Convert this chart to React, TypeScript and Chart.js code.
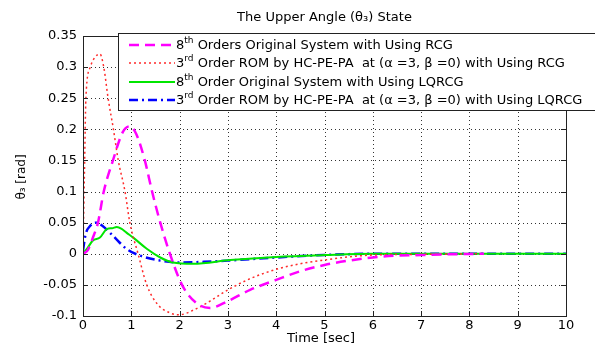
import React, { useEffect, useRef } from "react";
import { Chart, registerables } from "chart.js";

Chart.register(...registerables);

const xTicks = [0, 1, 2, 3, 4, 5, 6, 7, 8, 9, 10];
const yTicks = [-0.1, -0.05, 0, 0.05, 0.1, 0.15, 0.2, 0.25, 0.3, 0.35];

const titleText = "The Upper Angle (θ₃) State";
const xLabel = "Time [sec]";
const yLabel = "θ₃ [rad]";

const magentaT = [0, 0.1, 0.2, 0.31, 0.43, 0.62, 0.82, 0.97, 1.1, 1.28, 1.43, 1.6, 1.8, 2.05, 2.36, 2.63, 3.0, 3.46, 4.0, 4.5, 5.0, 5.5, 6.0, 6.5, 7.0, 7.5, 8.3];
const magentaV = [0, 0.006, 0.025, 0.05, 0.1, 0.15, 0.195, 0.205, 0.193, 0.15, 0.1, 0.05, 0, -0.05, -0.08, -0.087, -0.076, -0.058, -0.042, -0.028, -0.018, -0.011, -0.006, -0.003, -0.002, -0.001, 0];

const redT = [0, 0.03, 0.06, 0.15, 0.25, 0.35, 0.43, 0.52, 0.63, 0.73, 0.87, 0.97, 1.14, 1.32, 1.53, 1.8, 2.0, 2.3, 2.63, 3.0, 3.46, 4.0, 4.5, 5.0, 5.5, 6.0, 7.0, 8.3];
const redV = [0, 0.13, 0.25, 0.3, 0.316, 0.321, 0.3, 0.25, 0.2, 0.15, 0.1, 0.05, 0, -0.05, -0.08, -0.095, -0.098, -0.09, -0.076, -0.058, -0.04, -0.025, -0.016, -0.01, -0.005, -0.002, -0.001, 0];

const greenT = [0, 0.1, 0.2, 0.35, 0.5, 0.6, 0.7, 0.8, 0.9, 1.04, 1.32, 1.6, 1.86, 2.28, 3.05, 4.0, 5.0, 6.0, 7, 8, 9, 10];
const greenV = [0, 0.01, 0.021, 0.026, 0.04, 0.041, 0.043, 0.04, 0.034, 0.026, 0.008, -0.006, -0.014, -0.016, -0.01, -0.005, -0.002, 0, 0, 0, 0, 0];

const blueT = [0, 0.05, 0.15, 0.28, 0.4, 0.62, 0.9, 1.18, 1.6, 2.0, 2.5, 3.0, 4.0, 5.0, 6.0, 7, 8, 9, 10];
const blueV = [0.005, 0.03, 0.045, 0.05, 0.045, 0.029, 0.008, -0.003, -0.011, -0.014, -0.013, -0.011, -0.006, -0.002, 0, 0, 0, 0, 0];

const legendItems = [
  { base: "8", sup: "th", rest: " Orders Original System with Using RCG" },
  { base: "3", sup: "rd", rest: " Order ROM by HC-PE-PA  at (α =3, β =0) with Using RCG" },
  { base: "8", sup: "th", rest: " Order Original System with Using LQRCG" },
  { base: "3", sup: "rd", rest: " Order ROM by HC-PE-PA  at (α =3, β =0) with Using LQRCG" },
];

const FONT = "'DejaVu Sans', 'Liberation Sans', sans-serif";

const pts = (t: number[], v: number[]) => t.map((x, i) => ({ x, y: v[i] }));

const gridPlugin = {
  id: "dotgrid",
  beforeDatasetsDraw(chart: any) {
    const { ctx, chartArea: a } = chart;
    const xs = chart.scales.x;
    const ys = chart.scales.y;
    ctx.save();
    ctx.strokeStyle = "#333";
    ctx.lineWidth = 1;
    ctx.setLineDash([1, 3]);
    ctx.beginPath();
    xTicks.forEach((v) => {
      const px = Math.round(xs.getPixelForValue(v)) + 0.5;
      ctx.moveTo(px, a.top);
      ctx.lineTo(px, a.bottom);
    });
    yTicks.forEach((v) => {
      const py = Math.round(ys.getPixelForValue(v)) + 0.5;
      ctx.moveTo(a.left, py);
      ctx.lineTo(a.right, py);
    });
    ctx.stroke();
    ctx.restore();
  },
};

const decorPlugin = {
  id: "decor",
  afterDraw(chart: any) {
    const { ctx, chartArea: a } = chart;
    const xs = chart.scales.x;
    const ys = chart.scales.y;
    ctx.save();
    ctx.strokeStyle = "#222";
    ctx.lineWidth = 1;
    ctx.setLineDash([]);
    ctx.strokeRect(Math.round(a.left) + 0.5, Math.round(a.top) + 0.5, Math.round(a.right - a.left), Math.round(a.bottom - a.top));
    ctx.beginPath();
    xTicks.forEach((v) => {
      const px = Math.round(xs.getPixelForValue(v)) + 0.5;
      ctx.moveTo(px, a.bottom);
      ctx.lineTo(px, a.bottom - 5);
      ctx.moveTo(px, a.top);
      ctx.lineTo(px, a.top + 5);
    });
    yTicks.forEach((v) => {
      const py = Math.round(ys.getPixelForValue(v)) + 0.5;
      ctx.moveTo(a.left, py);
      ctx.lineTo(a.left + 5, py);
      ctx.moveTo(a.right, py);
      ctx.lineTo(a.right - 5, py);
    });
    ctx.stroke();

    ctx.fillStyle = "#000";
    ctx.font = `13px ${FONT}`;
    ctx.textAlign = "center";
    ctx.textBaseline = "middle";
    ctx.fillText(titleText, (a.left + a.right) / 2, 18);
    ctx.font = `13px ${FONT}`;
    ctx.fillText(xLabel, 321, 339);
    ctx.save();
    ctx.translate(22, 177);
    ctx.rotate(-Math.PI / 2);
    ctx.font = `12px ${FONT}`;
    ctx.fillText(yLabel, 0, 0);
    ctx.restore();

    const bx = 118, by = 33, bw = 490, bh = 77;
    ctx.fillStyle = "#fff";
    ctx.fillRect(bx, by, bw, bh);
    ctx.strokeStyle = "#222";
    ctx.lineWidth = 1;
    ctx.strokeRect(bx + 0.5, by + 0.5, bw, bh);
    const rowsY = [45, 63, 82, 100];
    chart.data.datasets.forEach((ds: any, i: number) => {
      const y = rowsY[i];
      ctx.strokeStyle = ds.borderColor;
      ctx.lineWidth = ds.borderWidth;
      ctx.setLineDash(ds.borderDash || []);
      ctx.beginPath();
      ctx.moveTo(129, y);
      ctx.lineTo(175, y);
      ctx.stroke();
      ctx.setLineDash([]);
      const it = legendItems[i];
      ctx.fillStyle = "#000";
      ctx.textAlign = "left";
      ctx.textBaseline = "middle";
      let x = 176;
      ctx.font = `13px ${FONT}`;
      ctx.fillText(it.base, x, y + 1);
      x += ctx.measureText(it.base).width;
      ctx.font = `9px ${FONT}`;
      ctx.fillText(it.sup, x, y - 4);
      x += ctx.measureText(it.sup).width;
      ctx.font = `13px ${FONT}`;
      ctx.fillText(it.rest, x, y + 1);
    });
    ctx.restore();
  },
};

export default function App() {
  const ref = useRef<HTMLCanvasElement>(null);
  useEffect(() => {
    if (!ref.current) return;
    const chart = new Chart(ref.current, {
      type: "line",
      data: {
        datasets: [
          { label: "m", data: pts(magentaT, magentaV), borderColor: "#ff00ff", borderWidth: 2.5, borderDash: [10, 6], pointRadius: 0, cubicInterpolationMode: "monotone", fill: false },
          { label: "r", data: pts(redT, redV), borderColor: "#ff2a2a", borderWidth: 1.5, borderDash: [2, 3], pointRadius: 0, cubicInterpolationMode: "monotone", fill: false },
          { label: "g", data: pts(greenT, greenV), borderColor: "#00e600", borderWidth: 2, pointRadius: 0, cubicInterpolationMode: "monotone", fill: false },
          { label: "b", data: pts(blueT, blueV), borderColor: "#0000ff", borderWidth: 2.5, borderDash: [9, 4, 2, 4], pointRadius: 0, cubicInterpolationMode: "monotone", fill: false },
        ],
      } as any,
      options: {
        responsive: false,
        animation: false,
        layout: { padding: { left: 0, top: 36, right: 29, bottom: 0 } },
        plugins: { legend: { display: false }, title: { display: false }, tooltip: { enabled: false } },
        scales: {
          x: {
            type: "linear",
            min: 0,
            max: 10,
            afterFit: (s: any) => { s.height = 31; },
            afterBuildTicks: (s: any) => { s.ticks = xTicks.map((v) => ({ value: v })); },
            ticks: { font: { family: FONT, size: 13 }, color: "#000", padding: 2, maxRotation: 0, autoSkip: false },
            grid: { display: false, drawTicks: false, tickLength: 0 },
            border: { display: false },
          },
          y: {
            type: "linear",
            min: -0.1,
            max: 0.35,
            afterFit: (s: any) => { s.width = 83; },
            afterBuildTicks: (s: any) => { s.ticks = yTicks.map((v) => ({ value: v })); },
            ticks: { font: { family: FONT, size: 13 }, color: "#000", padding: 6, autoSkip: false, callback: (v: any) => String(parseFloat(Number(v).toFixed(2))) },
            grid: { display: false, drawTicks: false, tickLength: 0 },
            border: { display: false },
          },
        },
      } as any,
      plugins: [gridPlugin, decorPlugin],
    });
    return () => chart.destroy();
  }, []);
  return (
    <div style={{ position: "absolute", left: 0, top: 0, width: 595, height: 347, background: "#fff" }}>
      <canvas ref={ref} width={595} height={347} style={{ width: 595, height: 347 }} />
    </div>
  );
}
